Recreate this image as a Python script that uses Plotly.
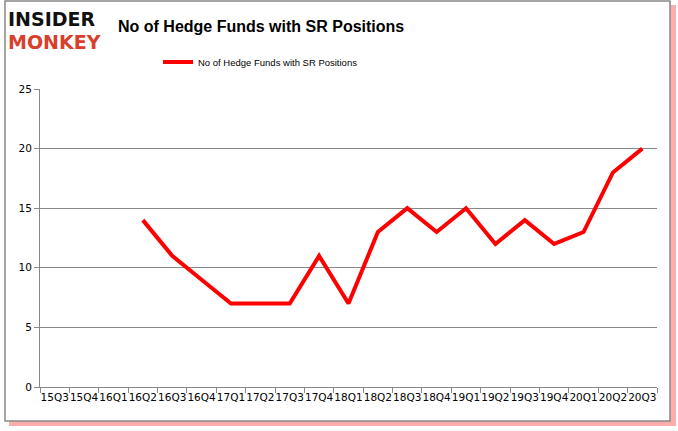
import plotly.graph_objects as go

quarters = ["15Q3","15Q4","16Q1","16Q2","16Q3","16Q4","17Q1","17Q2","17Q3","17Q4",
            "18Q1","18Q2","18Q3","18Q4","19Q1","19Q2","19Q3","19Q4","20Q1","20Q2","20Q3"]
funds = [None, None, None, 14, 11, 9, 7, 7, 7, 11, 7, 13, 15, 13, 15, 12, 14, 12, 13, 18, 20]
series_name = "No of Hedge Funds with SR Positions"
title_text = "No of Hedge Funds with SR Positions"

W, H = 678, 431
L, R, T, B = 40, 21, 89, 44
PW, PH = W - L - R, H - T - B

def px(x):
    return (x - L) / PW
def py(y):
    return (H - B - y) / PH

fig = go.Figure()
fig.add_trace(go.Scatter(x=quarters, y=funds, mode="lines", name=series_name,
                         line=dict(color="#ff0000", width=4), connectgaps=False))

shapes = [
    dict(type="rect", xref="paper", yref="paper", x0=px(9), x1=px(676), y0=py(426), y1=py(5),
         line=dict(width=0), fillcolor="rgba(255,70,70,0.45)", layer="below"),
    dict(type="rect", xref="paper", yref="paper", x0=px(5), x1=px(670), y0=py(421), y1=py(1),
         line=dict(color="#888888", width=1.5), fillcolor="white", layer="below"),
]

annotations = [
    dict(text="<b>INSIDER</b>", x=px(6), y=py(19), xref="paper", yref="paper", xanchor="left",
         yanchor="middle", showarrow=False, font=dict(family="DejaVu Sans", size=19, color="#111111")),
    dict(text="<b>MONKEY</b>", x=px(6), y=py(42), xref="paper", yref="paper", xanchor="left",
         yanchor="middle", showarrow=False, font=dict(family="DejaVu Sans", size=19, color="#d9402c")),
    dict(text="<b>" + title_text + "</b>", x=px(261), y=py(27), xref="paper", yref="paper",
         xanchor="center", yanchor="middle", showarrow=False,
         font=dict(family="Liberation Sans", size=16, color="#000000")),
]

fig.update_layout(
    width=W, height=H,
    margin=dict(l=L, r=R, t=T, b=B, autoexpand=False),
    paper_bgcolor="rgba(0,0,0,0)",
    plot_bgcolor="rgba(0,0,0,0)",
    shapes=shapes,
    annotations=annotations,
    showlegend=True,
    legend=dict(orientation="h", x=px(158), y=py(62), xanchor="left", yanchor="middle",
                font=dict(family="Liberation Sans", size=9.5, color="#000000"),
                bgcolor="rgba(0,0,0,0)"),
    xaxis=dict(type="category", categoryorder="array", categoryarray=quarters,
               range=[-0.5, len(quarters) - 0.5], automargin=False,
               showgrid=False, showline=True, linecolor="#888888", linewidth=1,
               ticks="outside", tickson="boundaries", ticklen=5, tickcolor="#888888",
               tickfont=dict(family="DejaVu Sans", size=10.5, color="#000000"),
               tickangle=0),
    yaxis=dict(range=[0, 25], dtick=5, showgrid=True, gridcolor="#888888", gridwidth=1,
               showline=True, linecolor="#888888", linewidth=1, zeroline=False, automargin=False,
               ticks="outside", ticklen=5, tickcolor="#888888",
               tickfont=dict(family="DejaVu Sans", size=10.5, color="#000000")),
)

fig.write_html("out.html", config={"displayModeBar": False},
               post_script="document.body.style.margin='0';document.body.style.overflow='hidden';")
